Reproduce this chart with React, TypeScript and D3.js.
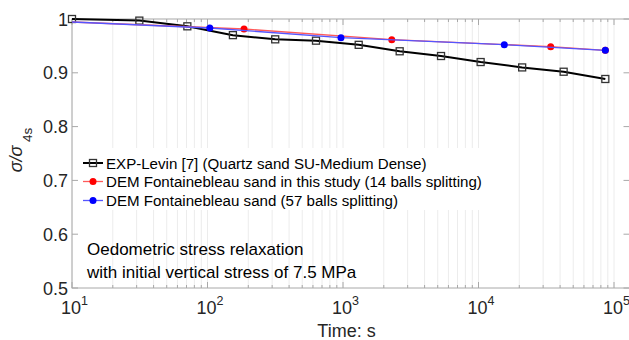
import React from "react";
import * as d3 from "d3";

const W = 629;
const H = 340;

const expTime = [10, 31.4, 71, 154, 316, 632, 1306, 2620, 5290, 10370, 21000, 42500, 86300];
const expValue = [1.0, 0.997, 0.9864, 0.970, 0.9622, 0.9597, 0.952, 0.940, 0.9312, 0.920, 0.910, 0.902, 0.8885];

const redTime = [10, 186, 2290, 34100, 86300];
const redValue = [0.9944, 0.9814, 0.9616, 0.9486, 0.9418];

const blueTime = [10, 104, 966, 15500, 86300];
const blueValue = [0.9944, 0.9833, 0.9653, 0.9522, 0.9418];

const yTicks = [0.5, 0.6, 0.7, 0.8, 0.9, 1];
const xMajor = [10, 100, 1000, 10000, 100000];
const xExp = ["1", "2", "3", "4", "5"];

const legendLabels = [
  "EXP-Levin [7] (Quartz sand SU-Medium Dense)",
  "DEM Fontainebleau sand in this study (14 balls splitting)",
  "DEM Fontainebleau sand (57 balls splitting)",
];

const noteLines = ["Oedometric stress relaxation", "with initial vertical stress of 7.5 MPa"];

const FONT = "'Liberation Sans', Arial, Helvetica, sans-serif";

export default function App() {
  const left = 72;
  const right = 629.5;
  const top = 19;
  const bottom = 288;
  const decade = (614 - 72) / 4;
  const xMax = Math.pow(10, 5 + (right - 614) / decade);

  const x = d3.scaleLog().domain([10, xMax]).range([left, right]);
  const y = d3.scaleLinear().domain([0.5, 1]).range([bottom, top]);

  const minor: number[] = [];
  for (let e = 1; e <= 5; e++) {
    for (let m = 1; m <= 9; m++) {
      const v = m * Math.pow(10, e);
      if (v <= xMax) minor.push(v);
    }
  }

  const line = d3
    .line<[number, number]>()
    .x((d) => x(d[0]))
    .y((d) => y(d[1]));

  const exp = expTime.map((t, i) => [t, expValue[i]] as [number, number]);
  const red = redTime.map((t, i) => [t, redValue[i]] as [number, number]);
  const blue = blueTime.map((t, i) => [t, blueValue[i]] as [number, number]);

  const axisColor = "#a8a8a8";
  const gridColor = "#ececec";
  const textColor = "#262626";

  const legX = 83;
  const legY = [163, 181.5, 200.5];

  return (
    <svg width={W} height={H} style={{ position: "absolute", left: 0, top: 0, background: "#fff" }} fontFamily={FONT}>
      <rect x={0} y={0} width={W} height={H} fill="#fff" />
      {/* grid */}
      {minor.map((v, i) => (
        <line key={"g" + i} x1={x(v)} x2={x(v)} y1={top} y2={bottom} stroke={gridColor} strokeWidth={1} />
      ))}
      {/* legend background */}
      <rect x={76} y={148} width={419} height={62} fill="#fff" />
      {/* frame */}
      <rect x={left} y={top} width={right - left} height={bottom - top} fill="none" stroke={axisColor} strokeWidth={1} />
      {/* x ticks */}
      {minor.map((v, i) => {
        const major = xMajor.includes(v);
        const len = major ? 6 : 3;
        return (
          <g key={"t" + i}>
            <line x1={x(v)} x2={x(v)} y1={bottom} y2={bottom - len} stroke={axisColor} />
            <line x1={x(v)} x2={x(v)} y1={top} y2={top + len} stroke={axisColor} />
          </g>
        );
      })}
      {/* y ticks */}
      {yTicks.map((v, i) => (
        <g key={"y" + i}>
          <line x1={left} x2={left + 6} y1={y(v)} y2={y(v)} stroke={axisColor} />
          <line x1={right} x2={right - 6} y1={y(v)} y2={y(v)} stroke={axisColor} />
          <text x={68} y={y(v) + 6.5} textAnchor="end" fontSize={18} fill={textColor}>
            {String(v)}
          </text>
        </g>
      ))}
      {/* x tick labels */}
      {xMajor.map((v, i) => (
        <text key={"xl" + i} x={x(v) - 11} y={314} fontSize={18} fill={textColor}>
          10
          <tspan dy={-9} fontSize={12.5}>
            {xExp[i]}
          </tspan>
        </text>
      ))}
      {/* x label */}
      <text x={346.5} y={337} textAnchor="middle" fontSize={18} fill={textColor}>
        Time: s
      </text>
      {/* y label */}
      <g transform="translate(21.5,150) rotate(-90)">
        <text textAnchor="middle" fontSize={18} fill={textColor}>
          <tspan fontStyle="italic">σ/σ</tspan>
          <tspan dy={10} fontSize={13.5}>
            {" 4s"}
          </tspan>
        </text>
      </g>
      {/* series */}
      <path d={line(exp) || ""} fill="none" stroke="#000" strokeWidth={2} />
      {exp.map((d, i) => (
        <rect key={"e" + i} x={x(d[0]) - 3.5} y={y(d[1]) - 3.5} width={7} height={7} fill="none" stroke="#333" strokeWidth={1.3} />
      ))}
      <path d={line(red) || ""} fill="none" stroke="#ff5a5a" strokeWidth={1.3} />
      {red.slice(1).map((d, i) => (
        <circle key={"r" + i} cx={x(d[0])} cy={y(d[1])} r={3.5} fill="#ff0000" />
      ))}
      <path d={line(blue) || ""} fill="none" stroke="#5555ff" strokeWidth={1.3} />
      {blue.slice(1).map((d, i) => (
        <circle key={"b" + i} cx={x(d[0])} cy={y(d[1])} r={3.5} fill="#0000ff" />
      ))}
      {/* legend */}
      <line x1={legX} x2={legX + 20} y1={legY[0]} y2={legY[0]} stroke="#000" strokeWidth={2} />
      <rect x={legX + 6.5} y={legY[0] - 3.5} width={7} height={7} fill="none" stroke="#333" strokeWidth={1.3} />
      <line x1={legX} x2={legX + 20} y1={legY[1]} y2={legY[1]} stroke="#ff5a5a" strokeWidth={1.3} />
      <circle cx={legX + 10} cy={legY[1]} r={3.5} fill="#ff0000" />
      <line x1={legX} x2={legX + 20} y1={legY[2]} y2={legY[2]} stroke="#5555ff" strokeWidth={1.3} />
      <circle cx={legX + 10} cy={legY[2]} r={3.5} fill="#0000ff" />
      {legendLabels.map((s, i) => (
        <text key={"l" + i} x={106} y={legY[i] + 5.5} fontSize={15.1} fill="#000">
          {s}
        </text>
      ))}
      {/* annotation */}
      {noteLines.map((s, i) => (
        <text key={"n" + i} x={87} y={255 + i * 23} fontSize={17} fill="#000">
          {s}
        </text>
      ))}
    </svg>
  );
}
